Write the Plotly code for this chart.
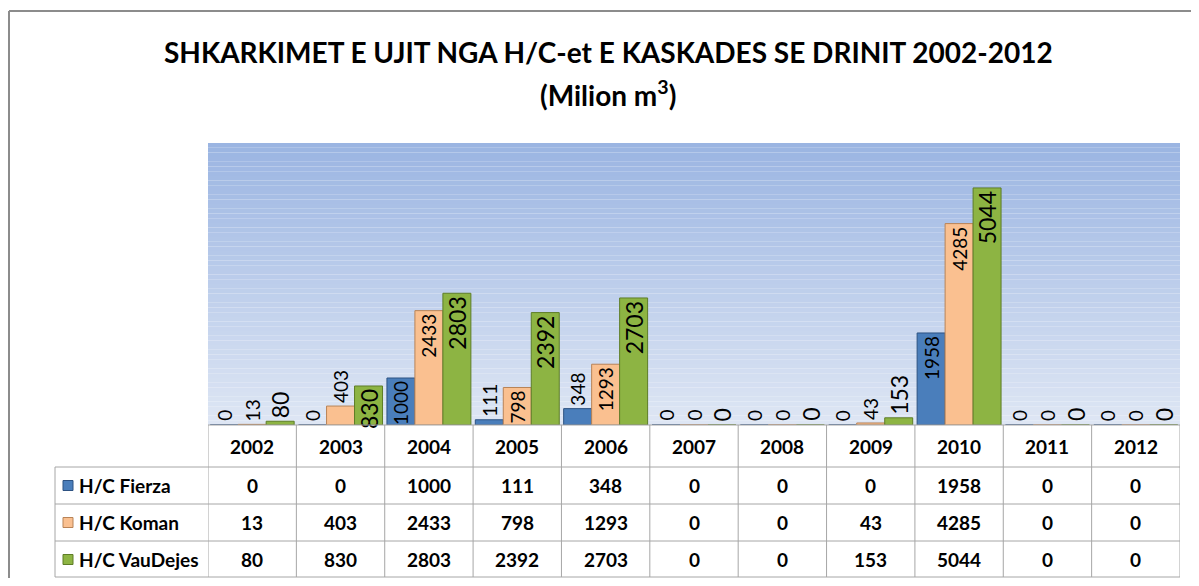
import plotly.graph_objects as go

years = ["2002", "2003", "2004", "2005", "2006", "2007", "2008", "2009", "2010", "2011", "2012"]
series_names = ["H/C Fierza", "H/C Koman", "H/C VauDejes"]
fierza = [0, 0, 1000, 111, 348, 0, 0, 0, 1958, 0, 0]
koman = [13, 403, 2433, 798, 1293, 0, 0, 43, 4285, 0, 0]
vaudejes = [80, 830, 2803, 2392, 2703, 0, 0, 153, 5044, 0, 0]
title_line1 = "SHKARKIMET E UJIT NGA H/C-et E KASKADES SE DRINIT 2002-2012"
title_line2 = "(Milion m<sup>3</sup>)"

OFF = 8  # page body margin
W, H = 1199 - 2 * OFF, 586 - 2 * OFF
L, R, T, B = 208, 1180, 143, 425  # plot area in page pixels
FONT = "Lato, 'Open Sans', sans-serif"

def px_x(p):
    return (p - L) / (R - L)

def px_y(p):
    return (B - p) / (B - T)

fills = ["#4a7ebb", "#fac090", "#8db443"]
lines = ["#2d5282", "#b98356", "#5e7d27"]
label_sizes = [19, 19, 23]
all_values = [fierza, koman, vaudejes]
bargap = 0.05
bw = (1 - bargap) / 3

fig = go.Figure()
xi = list(range(len(years)))
annotations = []
for k, (name, vals, fc, lc, fs) in enumerate(zip(series_names, all_values, fills, lines, label_sizes)):
    fig.add_trace(go.Bar(
        x=xi, y=vals, name=name,
        marker=dict(color=fc, line=dict(color=lc, width=1)),
        text=[str(v) if v != 0 else "" for v in vals],
        textposition="auto",
        textangle=-90,
        insidetextanchor="end",
        insidetextfont=dict(family=FONT, size=fs, color="#000000"),
        outsidetextfont=dict(family=FONT, size=fs, color="#000000"),
        constraintext="none",
        cliponaxis=False,
        showlegend=False,
    ))
    # plotly draws no text for zero-height bars: label them via annotations
    for j, v in enumerate(vals):
        if v == 0:
            annotations.append(dict(x=j + (k - 1) * bw, y=v, xref="x", yref="y",
                                    text=str(v), textangle=-90, showarrow=False,
                                    font=dict(family=FONT, size=fs, color="#000000"),
                                    xanchor="center", yanchor="bottom", yshift=2))

shapes = []
# gradient background of plot area
n = 60
top_c = (155, 181, 226)
bot_c = (222, 230, 244)
for i in range(n):
    t = i / (n - 1)
    c = tuple(round(top_c[k] + (bot_c[k] - top_c[k]) * t) for k in range(3))
    shapes.append(dict(type="rect", xref="paper", yref="paper",
                       x0=0, x1=1, y0=1 - (i + 1) / n, y1=1 - i / n,
                       fillcolor="rgb(%d,%d,%d)" % c, line=dict(width=0), layer="below"))

# outer chart border (top and left edges visible)
border = dict(color="#8c8c8c", width=2)
shapes.append(dict(type="line", xref="paper", yref="paper",
                   x0=px_x(9), x1=px_x(1215), y0=px_y(11), y1=px_y(11), line=border))
shapes.append(dict(type="line", xref="paper", yref="paper",
                   x0=px_x(9), x1=px_x(9), y0=px_y(11), y1=px_y(600), line=border))

# data table grid
grid = "#a6a6a6"
row_edges = [425, 467, 504, 541, 577]
tab_left = 55
for k, yy in enumerate(row_edges):
    x0 = 0 if k == 0 else px_x(tab_left)
    shapes.append(dict(type="line", xref="paper", yref="paper",
                       x0=x0, x1=1, y0=px_y(yy), y1=px_y(yy),
                       line=dict(color=grid, width=1)))
for j in range(len(years) + 1):
    shapes.append(dict(type="line", xref="x", yref="paper",
                       x0=j - 0.5, x1=j - 0.5, y0=px_y(425), y1=px_y(577),
                       line=dict(color=grid, width=1)))
shapes.append(dict(type="line", xref="paper", yref="paper",
                   x0=px_x(tab_left), x1=px_x(tab_left), y0=px_y(467), y1=px_y(577),
                   line=dict(color=grid, width=1)))

tfont = dict(family=FONT, size=19, color="#000000")
for j, yr in enumerate(years):
    annotations.append(dict(x=j, y=px_y(446), xref="x", yref="paper", text="<b>%s</b>" % yr,
                            showarrow=False, font=tfont, xanchor="center", yanchor="middle"))
row_centers = [485.5, 522.5, 559.5]
for r, (name, vals, fc, lc) in enumerate(zip(series_names, all_values, fills, lines)):
    yc = row_centers[r]
    shapes.append(dict(type="rect", xref="paper", yref="paper",
                       x0=px_x(63), x1=px_x(73), y0=px_y(yc + 5), y1=px_y(yc - 5),
                       fillcolor=fc, line=dict(color=lc, width=1)))
    annotations.append(dict(x=px_x(77), y=px_y(yc), xref="paper", yref="paper",
                            text="<b>%s</b>" % name, showarrow=False, font=tfont,
                            xanchor="left", yanchor="middle"))
    for j, v in enumerate(vals):
        annotations.append(dict(x=j, y=px_y(yc), xref="x", yref="paper", text="<b>%d</b>" % v,
                                showarrow=False, font=tfont, xanchor="center", yanchor="middle"))

annotations.append(dict(x=px_x(608), y=px_y(52), xref="paper", yref="paper",
                        text="<b>%s</b>" % title_line1, showarrow=False,
                        font=dict(family=FONT, size=28, color="#000000"),
                        xanchor="center", yanchor="middle"))
annotations.append(dict(x=px_x(608), y=px_y(93), xref="paper", yref="paper",
                        text="<b>%s</b>" % title_line2, showarrow=False,
                        font=dict(family=FONT, size=28, color="#000000"),
                        xanchor="center", yanchor="middle"))

fig.update_layout(
    width=W, height=H,
    margin=dict(l=L - OFF, r=W - (R - OFF), t=T - OFF, b=H - (B - OFF), pad=0),
    paper_bgcolor="#ffffff", plot_bgcolor="rgba(0,0,0,0)",
    barmode="group", bargap=bargap, bargroupgap=0,
    xaxis=dict(range=[-0.5, len(years) - 0.5], showticklabels=False, showgrid=False,
               zeroline=False, showline=False, ticks=""),
    yaxis=dict(range=[0, 6000], showticklabels=False, showgrid=False,
               zeroline=False, showline=False, ticks=""),
    shapes=shapes, annotations=annotations,
    uniformtext=dict(mode=False),
    font=dict(family=FONT),
)

fig.write_html("out.html")
